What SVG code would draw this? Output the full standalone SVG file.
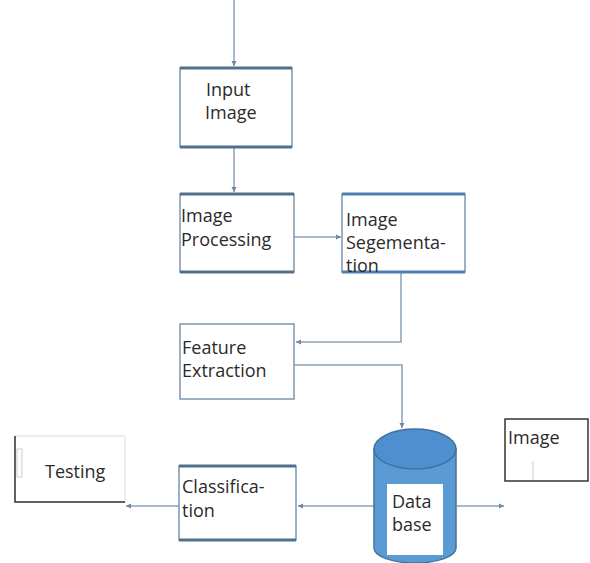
<svg xmlns="http://www.w3.org/2000/svg" width="590" height="563" viewBox="0 0 590 563">
<defs>
<style>
.box{fill:#fff;stroke:#7a98b2;stroke-width:1.5}
.edge{stroke:#52708c;stroke-width:3}
.t{font-family:"Open Sans","DejaVu Sans",sans-serif;font-size:18px;fill:#2b2b2b}
.c{fill:none;stroke:#8aa2b8;stroke-width:1.5}
</style>
<marker id="ah" markerWidth="6" markerHeight="6" refX="5" refY="3" orient="auto" markerUnits="userSpaceOnUse">
<path d="M0,0.5 L5,3 L0,5.5 Z" fill="#6a88a4"/>
</marker>
</defs>
<rect width="590" height="563" fill="#fff"/>
<g id="connectors">
<line class="c" x1="234" y1="0" x2="234" y2="66" marker-end="url(#ah)"/>
<line class="c" x1="234" y1="148" x2="234" y2="192" marker-end="url(#ah)"/>
<line class="c" x1="294" y1="237" x2="341" y2="237" marker-end="url(#ah)"/>
<polyline class="c" points="401,273 401,342 296,342" marker-end="url(#ah)"/>
<polyline class="c" points="294,365 402,365 402,428" marker-end="url(#ah)"/>
<line class="c" x1="374" y1="506" x2="298" y2="506" marker-end="url(#ah)"/>
<line class="c" x1="179" y1="506" x2="126" y2="506" marker-end="url(#ah)"/>
<line class="c" x1="457" y1="506" x2="504" y2="506" marker-end="url(#ah)"/>
</g>
<g id="input-image">
<rect class="box" x="180" y="68" width="112" height="79"/>
<line class="edge" x1="180" y1="68" x2="292" y2="68"/>
<line class="edge" x1="180" y1="147" x2="292" y2="147"/>
<text class="t" x="206" y="96">Input</text>
<text class="t" x="205" y="119">Image</text>
</g>
<g id="image-processing">
<rect class="box" x="180" y="194" width="114" height="78"/>
<line class="edge" x1="180" y1="194" x2="294" y2="194"/>
<line class="edge" x1="180" y1="272" x2="294" y2="272"/>
<text class="t" x="181" y="222">Image</text>
<text class="t" x="181" y="246">Processing</text>
</g>
<g id="image-segmentation">
<rect class="box" x="342" y="194" width="123" height="78" stroke="#5b8fc4"/>
<line x1="342" y1="194" x2="465" y2="194" stroke="#4e7fb3" stroke-width="3"/>
<line x1="342" y1="272" x2="465" y2="272" stroke="#4e7fb3" stroke-width="3"/>
<text class="t" x="346" y="226">Image</text>
<text class="t" x="346" y="249">Segementa-</text>
<text class="t" x="346" y="272">tion</text>
</g>
<g id="feature-extraction">
<rect class="box" x="180" y="324" width="114" height="75" stroke="#6d7f8f"/>
<text class="t" x="182" y="354">Feature</text>
<text class="t" x="182" y="377">Extraction</text>
</g>
<g id="classification">
<rect class="box" x="179" y="466" width="117" height="74"/>
<line class="edge" x1="179" y1="466" x2="296" y2="466"/>
<line class="edge" x1="179" y1="540" x2="296" y2="540"/>
<text class="t" x="182" y="493">Classifica-</text>
<text class="t" x="182" y="517">tion</text>
</g>
<g id="testing">
<rect x="15" y="436" width="110" height="66" fill="#fff" stroke="#d8dde2" stroke-width="1"/>
<polyline points="15,436 15,502 125,502" fill="none" stroke="#333" stroke-width="1.5"/>
<rect x="17" y="449" width="5" height="28" fill="none" stroke="#c8ccd0" stroke-width="1"/>
<text class="t" x="45" y="478">Testing</text>
</g>
<g id="database">
<path d="M374,449 L374,548 A41,15 0 0 0 456,548 L456,449 Z" fill="#5b9bd5" stroke="#41719c" stroke-width="1.5"/>
<ellipse cx="415" cy="449" rx="41" ry="20" fill="#4e8fcf" stroke="#41719c" stroke-width="1.5"/>
<rect x="387" y="484" width="56" height="71" fill="#fff"/>
<text class="t" x="392" y="508" font-size="16">Data</text>
<text class="t" x="392" y="531" font-size="16">base</text>
</g>
<g id="image-out">
<rect x="505" y="419" width="83" height="62" fill="#fff" stroke="#333" stroke-width="1.5"/>
<line x1="533" y1="461" x2="533" y2="480" stroke="#ccc" stroke-width="1"/>
<text class="t" x="508" y="444">Image</text>
</g>
</svg>
